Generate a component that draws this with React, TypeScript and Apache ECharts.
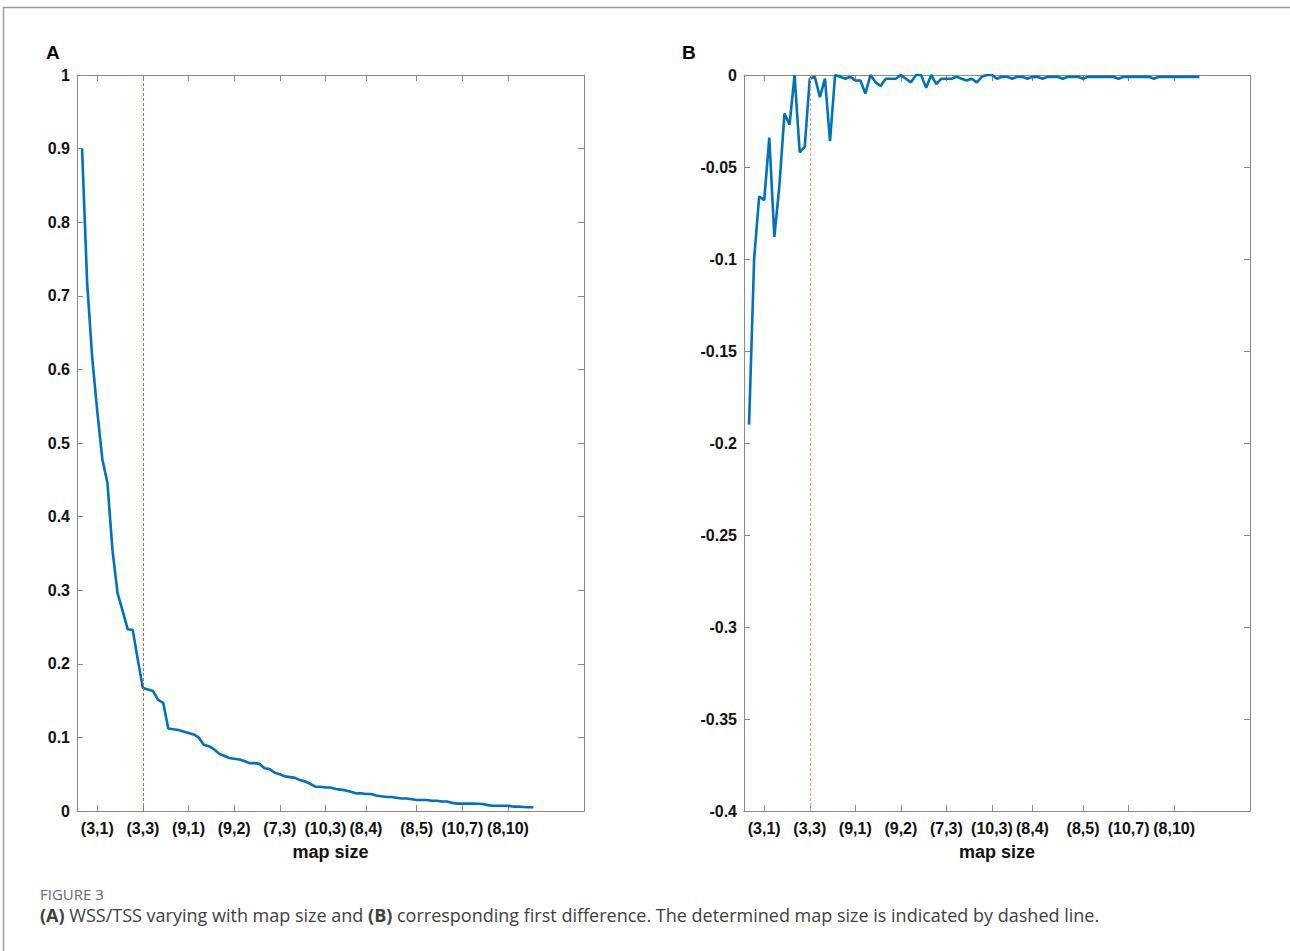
import React, { useEffect, useRef } from "react";
import * as echarts from "echarts";

// ---- data ----
const tickIndices = [4, 13, 22, 31, 40, 49, 57, 67, 76, 85];
const tickLabels = ["(3,1)", "(3,3)", "(9,1)", "(9,2)", "(7,3)", "(10,3)", "(8,4)", "(8,5)", "(10,7)", "(8,10)"];
const chosenIndex = 13;

// WSS/TSS per map-size index (1..90)
const wssTss = [
  0.9, 0.718, 0.616, 0.543, 0.478, 0.446, 0.354, 0.296, 0.272, 0.247,
  0.246, 0.205, 0.167, 0.165, 0.163, 0.151, 0.147, 0.112, 0.111, 0.11,
  0.108, 0.106, 0.104, 0.1, 0.09, 0.088, 0.084, 0.078, 0.075, 0.072,
  0.071, 0.07, 0.068, 0.065, 0.065, 0.064, 0.058, 0.057, 0.052, 0.05,
  0.047, 0.046, 0.045, 0.042, 0.04, 0.037, 0.033, 0.033, 0.032, 0.032,
  0.03, 0.029, 0.028, 0.026, 0.024, 0.024, 0.023, 0.023, 0.021, 0.02,
  0.019, 0.019, 0.018, 0.017, 0.017, 0.016, 0.015, 0.015, 0.015, 0.014,
  0.014, 0.013, 0.013, 0.011, 0.01, 0.01, 0.01, 0.01, 0.0098, 0.0095,
  0.008, 0.0072, 0.0072, 0.0072, 0.007, 0.006, 0.006, 0.0055, 0.005, 0.005,
];

// first difference per index (1..90)
const firstDiff = [
  -0.19, -0.1, -0.066, -0.068, -0.034, -0.088, -0.06, -0.021, -0.027, 0.0,
  -0.042, -0.039, -0.002, -0.001, -0.012, -0.002, -0.036, 0.0, -0.001, -0.002,
  -0.001, -0.003, -0.003, -0.01, 0.0, -0.004, -0.006, -0.002, -0.002, -0.002,
  0.0, -0.002, -0.004, 0.0, 0.0, -0.007, 0.0, -0.005, -0.002, -0.002,
  -0.002, -0.001, -0.002, -0.003, -0.002, -0.004, -0.001, 0.0, 0.0, -0.002,
  -0.001, -0.001, -0.002, -0.001, -0.001, -0.002, -0.001, -0.001, -0.002, -0.001,
  -0.001, -0.001, -0.002, -0.001, -0.001, -0.001, -0.002, -0.001, -0.001, -0.001,
  -0.001, -0.001, -0.001, -0.002, -0.001, -0.001, -0.001, -0.001, -0.001, -0.001,
  -0.002, -0.001, -0.001, -0.001, -0.001, -0.001, -0.001, -0.001, -0.001, -0.001,
];

const FONT = '"Liberation Sans", Arial, Helvetica, sans-serif';
const AX = "#8a8a8a";
const LABEL = "#111";
const LINE = "#0072BD";

function xAxes(gridIndex: number) {
  const labelFor = (v: number) => {
    const k = tickIndices.indexOf(Math.round(v));
    return k >= 0 ? tickLabels[k] : "";
  };
  return [
    {
      type: "value", gridIndex, position: "bottom", min: 0, max: 100,
      axisLine: { show: true, onZero: false, lineStyle: { color: AX, width: 1 } },
      axisTick: { show: true, inside: true, length: 6, customValues: tickIndices, lineStyle: { color: AX } },
      axisLabel: {
        show: true, customValues: tickIndices, formatter: labelFor, margin: 9,
        color: LABEL, fontWeight: "bold", fontSize: 16, fontFamily: FONT,
      },
      splitLine: { show: false },
      name: "map size", nameLocation: "middle", nameGap: 32,
      nameTextStyle: { color: LABEL, fontWeight: "bold", fontSize: 18, fontFamily: FONT, verticalAlign: "top" },
    },
    {
      type: "value", gridIndex, position: "top", min: 0, max: 100,
      axisLine: { show: true, onZero: false, lineStyle: { color: AX, width: 1 } },
      axisTick: { show: true, inside: true, length: 6, customValues: tickIndices, lineStyle: { color: AX } },
      axisLabel: { show: false },
      splitLine: { show: false },
    },
  ];
}

function yAxes(gridIndex: number, min: number, max: number, interval: number) {
  const fmt = (v: number) => String(parseFloat(v.toFixed(3)));
  return [
    {
      type: "value", gridIndex, position: "left", min, max, interval,
      axisLine: { show: true, onZero: false, lineStyle: { color: AX, width: 1 } },
      axisTick: { show: true, inside: true, length: 6, lineStyle: { color: AX } },
      axisLabel: { show: true, formatter: fmt, margin: 7, color: LABEL, fontWeight: "bold", fontSize: 16, fontFamily: FONT },
      splitLine: { show: false },
    },
    {
      type: "value", gridIndex, position: "right", min, max, interval,
      axisLine: { show: true, onZero: false, lineStyle: { color: AX, width: 1 } },
      axisTick: { show: true, inside: true, length: 6, lineStyle: { color: AX } },
      axisLabel: { show: false },
      splitLine: { show: false },
    },
  ];
}

export default function App() {
  const ref = useRef<HTMLDivElement>(null);
  useEffect(() => {
    if (!ref.current) return;
    const chart = echarts.init(ref.current, null, { renderer: "svg" });
    const dataA = wssTss.map((v, i) => [i + 1, v]);
    const dataB = firstDiff.map((v, i) => [i + 1, v]);
    const option = {
      animation: false,
      backgroundColor: "#ffffff",
      grid: [
        { left: 77, top: 75, width: 507, height: 736 },
        { left: 744, top: 75, width: 506, height: 736 },
      ],
      xAxis: [...xAxes(0), ...xAxes(1)],
      yAxis: [...yAxes(0, 0, 1, 0.1), ...yAxes(1, -0.4, 0, 0.05)],
      series: [
        {
          type: "line", xAxisIndex: 0, yAxisIndex: 0, data: dataA, showSymbol: false,
          lineStyle: { color: LINE, width: 2.6 }, itemStyle: { color: LINE },
          markLine: {
            silent: true, symbol: ["none", "none"], label: { show: false },
            lineStyle: { color: "#E8602C", type: [3, 2], width: 1, opacity: 1 },
            data: [{ xAxis: chosenIndex, lineStyle: { color: "#E8602C" } }],
          },
        },
        {
          type: "line", xAxisIndex: 2, yAxisIndex: 2, data: dataB, showSymbol: false,
          lineStyle: { color: LINE, width: 2.6 }, itemStyle: { color: LINE },
          markLine: {
            silent: true, symbol: ["none", "none"], label: { show: false },
            lineStyle: { color: "#F0A070", type: [3, 2], width: 1.2 },
            data: [{ xAxis: chosenIndex }],
          },
        },
      ],
      graphic: [
        {
          type: "rect", silent: true,
          shape: { x: 3.5, y: 7.5, width: 1400, height: 1000 },
          style: { fill: "none", stroke: "#9a9a9a", lineWidth: 1.5 },
        },
        { type: "text", left: 46, top: 43, style: { text: "A", fill: "#000", font: `bold 19px ${FONT}` } },
        { type: "text", left: 682, top: 43, style: { text: "B", fill: "#000", font: `bold 19px ${FONT}` } },
        {
          type: "text", left: 40, top: 886,
          style: { text: "FIGURE 3", fill: "#6a6a6a", font: '15px "Open Sans", sans-serif' },
        },
        {
          type: "text", left: 40, top: 906,
          style: {
            text: "{b|(A)} WSS/TSS varying with map size and {b|(B)} corresponding first difference. The determined map size is indicated by dashed line.",
            fill: "#404040", font: '18px "Open Sans", sans-serif',
            rich: { b: { fontWeight: "bold", fill: "#404040", fontSize: 18, fontFamily: '"Open Sans", sans-serif' } },
          },
        },
      ],
    };
    chart.setOption(option as any);
    return () => chart.dispose();
  }, []);
  return (
    <div
      ref={ref}
      style={{ position: "fixed", left: 0, top: 0, width: 1290, height: 951, background: "#fff" }}
    />
  );
}
